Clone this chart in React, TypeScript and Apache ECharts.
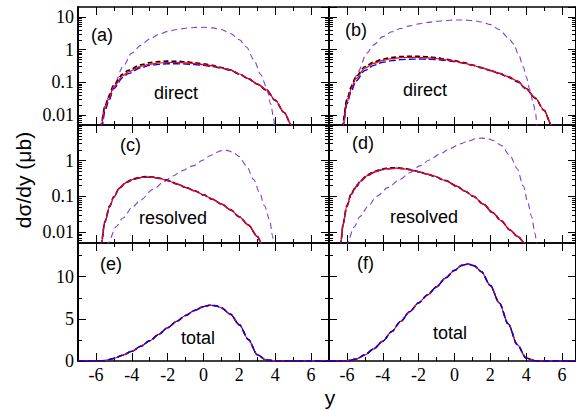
import React, { useEffect, useRef } from "react";
import * as echarts from "echarts";

// ---------- data (y = rapidity, value = dσ/dy in μb) ----------
const xMajorTicks = [-6, -4, -2, 0, 2, 4, 6];
const panelLetters = ["(a)", "(b)", "(c)", "(d)", "(e)", "(f)"];
const panelNames = ["direct", "direct", "resolved", "resolved", "total", "total"];

// (a) direct, left
const aBlack = [[-5.78,0.004],[-5.72,0.005],[-5.5,0.018],[-5.3,0.035],[-5,0.085],[-4.5,0.18],[-4.2,0.235],[-3.5,0.345],[-3,0.4],[-2.5,0.43],[-2,0.445],[-1.5,0.44],[-1,0.425],[-0.5,0.4],[0,0.37],[0.5,0.33],[1,0.285],[1.5,0.24],[2,0.18],[2.5,0.13],[3,0.088],[3.5,0.058],[4,0.028],[4.5,0.012],[4.9,0.005],[5,0.004]];
const aRed = [[-5.75,0.004],[-5.7,0.005],[-5.5,0.016],[-5.3,0.03],[-5,0.075],[-4.5,0.16],[-4.2,0.21],[-3.5,0.31],[-3,0.36],[-2.5,0.39],[-2,0.405],[-1.5,0.405],[-1,0.395],[-0.5,0.375],[0,0.35],[0.5,0.32],[1,0.28],[1.5,0.24],[2,0.18],[2.5,0.13],[3,0.09],[3.5,0.06],[4,0.029],[4.5,0.012],[4.9,0.005],[5,0.004]];
const aBlue = [[-5.7,0.004],[-5.65,0.005],[-5.5,0.013],[-5.3,0.026],[-5,0.065],[-4.5,0.14],[-4.2,0.185],[-3.5,0.28],[-3,0.33],[-2.5,0.355],[-2,0.37],[-1.5,0.37],[-1,0.365],[-0.5,0.35],[0,0.33],[0.5,0.305],[1,0.27],[1.5,0.235],[2,0.178],[2.5,0.13],[3,0.09],[3.5,0.06],[4,0.029],[4.5,0.012],[4.9,0.005],[5,0.004]];
const aPurple = [[-5.8,0.004],[-5.75,0.005],[-5.5,0.019],[-5.2,0.05],[-4.95,0.093],[-4.5,0.3],[-4,0.78],[-3.5,1.35],[-3,2.1],[-2.5,2.9],[-2,3.6],[-1.5,4.1],[-1,4.5],[-0.5,4.75],[0,4.8],[0.5,4.6],[1,4.1],[1.5,3.1],[2,2.0],[2.4,1.2],[2.8,0.5],[3.2,0.17],[3.5,0.075],[3.75,0.022],[3.9,0.009],[3.97,0.005],[4.02,0.004]];

// (b) direct, right
const bBlack = [[-6.3,0.004],[-6.25,0.005],[-6,0.03],[-5.75,0.075],[-5.5,0.15],[-5,0.3],[-4.5,0.42],[-4,0.51],[-3.5,0.575],[-3,0.615],[-2.5,0.63],[-2,0.62],[-1.5,0.6],[-1,0.57],[-0.5,0.51],[0,0.46],[0.5,0.4],[1,0.34],[1.5,0.285],[2,0.23],[2.5,0.185],[3,0.145],[3.5,0.105],[4,0.063],[4.5,0.033],[5,0.014],[5.4,0.005],[5.5,0.004]];
const bRed = [[-6.25,0.004],[-6.2,0.005],[-6,0.025],[-5.75,0.065],[-5.5,0.13],[-5,0.27],[-4.5,0.38],[-4,0.47],[-3.5,0.53],[-3,0.57],[-2.5,0.58],[-2,0.575],[-1.5,0.56],[-1,0.535],[-0.5,0.49],[0,0.445],[0.5,0.39],[1,0.335],[1.5,0.28],[2,0.23],[2.5,0.19],[3,0.15],[3.5,0.11],[4,0.065],[4.5,0.034],[5,0.014],[5.42,0.005],[5.5,0.004]];
const bBlue = [[-6.25,0.004],[-6.2,0.005],[-6,0.022],[-5.75,0.055],[-5.5,0.11],[-5,0.23],[-4.5,0.33],[-4,0.41],[-3.5,0.46],[-3,0.495],[-2.5,0.51],[-2,0.515],[-1.5,0.51],[-1,0.495],[-0.5,0.47],[0,0.43],[0.5,0.385],[1,0.33],[1.5,0.28],[2,0.23],[2.5,0.19],[3,0.15],[3.5,0.11],[4,0.065],[4.5,0.034],[5,0.014],[5.42,0.005],[5.5,0.004]];
const bPurple = [[-6.3,0.004],[-6.25,0.005],[-6,0.03],[-5.6,0.12],[-5.37,0.22],[-4.9,0.77],[-4.5,1.4],[-4,2.5],[-3.5,3.5],[-3,4.4],[-2.5,5.3],[-2,6.1],[-1.5,6.8],[-1,7.3],[-0.5,7.7],[0,8.0],[0.5,8.0],[1,7.7],[1.5,7.0],[2,5.8],[2.5,4.1],[3,2.3],[3.3,1.5],[3.6,0.65],[3.84,0.3],[4,0.15],[4.21,0.059],[4.4,0.022],[4.53,0.011],[4.6,0.005],[4.65,0.004]];

// (c) resolved, left
const cBlack = [[-5.75,0.004],[-5.7,0.005],[-5.5,0.02],[-5.23,0.055],[-5,0.1],[-4.67,0.18],[-4.3,0.255],[-3.93,0.31],[-3.5,0.35],[-3.19,0.36],[-2.8,0.352],[-2.44,0.325],[-2,0.283],[-1.5,0.227],[-0.95,0.177],[-0.5,0.145],[0,0.112],[0.5,0.084],[1,0.062],[1.5,0.043],[2,0.027],[2.5,0.016],[3,0.0077],[3.23,0.005],[3.3,0.004]];
const cRed = [[-5.75,0.004],[-5.7,0.005],[-5.5,0.02],[-5.23,0.053],[-5,0.098],[-4.67,0.176],[-4.3,0.25],[-3.93,0.3],[-3.5,0.34],[-3.19,0.35],[-2.8,0.345],[-2.44,0.32],[-2,0.28],[-1.5,0.225],[-0.95,0.176],[-0.5,0.145],[0,0.112],[0.5,0.084],[1,0.062],[1.5,0.043],[2,0.027],[2.5,0.016],[3,0.0077],[3.23,0.005],[3.3,0.004]];
const cBlue = [[-5.75,0.004],[-5.7,0.005],[-5.5,0.019],[-5.23,0.052],[-5,0.096],[-4.67,0.172],[-4.3,0.245],[-3.93,0.296],[-3.5,0.336],[-3.19,0.345],[-2.8,0.342],[-2.44,0.318],[-2,0.279],[-1.5,0.224],[-0.95,0.175],[-0.5,0.144],[0,0.111],[0.5,0.083],[1,0.061],[1.5,0.042],[2,0.027],[2.5,0.016],[3,0.0076],[3.23,0.005],[3.3,0.004]];
const cPurple = [[-5.4,0.004],[-5.33,0.005],[-4.86,0.0145],[-4.5,0.025],[-3.93,0.053],[-3.5,0.08],[-2.82,0.158],[-2.2,0.26],[-1.7,0.376],[-1.2,0.52],[-0.59,0.72],[0,1.05],[0.35,1.38],[0.7,1.7],[1,1.92],[1.3,1.95],[1.64,1.73],[2,1.3],[2.39,0.72],[2.8,0.3],[3.13,0.127],[3.4,0.055],[3.69,0.022],[3.85,0.008],[3.9,0.005],[3.95,0.004]];

// (d) resolved, right
const dBlack = [[-6.4,0.004],[-6.35,0.005],[-6.2,0.019],[-6.01,0.055],[-5.75,0.125],[-5.46,0.205],[-5.2,0.29],[-4.9,0.39],[-4.5,0.5],[-3.97,0.6],[-3.6,0.63],[-3.22,0.64],[-2.85,0.615],[-2.48,0.57],[-2,0.495],[-1.5,0.423],[-1.18,0.378],[-0.5,0.28],[0.12,0.196],[0.6,0.14],[1.05,0.102],[1.6,0.062],[2.16,0.035],[2.6,0.021],[3.1,0.0116],[3.5,0.0078],[3.93,0.005],[4,0.004]];
const dRed = [[-6.4,0.004],[-6.35,0.005],[-6.2,0.018],[-6.01,0.053],[-5.75,0.12],[-5.46,0.196],[-5.2,0.28],[-4.9,0.376],[-4.5,0.48],[-3.97,0.58],[-3.6,0.61],[-3.22,0.62],[-2.85,0.6],[-2.48,0.56],[-2,0.49],[-1.5,0.42],[-1.18,0.376],[-0.5,0.28],[0.12,0.196],[0.6,0.14],[1.05,0.102],[1.6,0.062],[2.16,0.035],[2.6,0.021],[3.1,0.0116],[3.5,0.0078],[3.93,0.005],[4,0.004]];
const dBlue = [[-6.4,0.004],[-6.35,0.005],[-6.2,0.017],[-6.01,0.051],[-5.75,0.115],[-5.46,0.19],[-5.2,0.272],[-4.9,0.365],[-4.5,0.47],[-3.97,0.57],[-3.6,0.6],[-3.22,0.61],[-2.85,0.595],[-2.48,0.556],[-2,0.488],[-1.5,0.418],[-1.18,0.375],[-0.5,0.279],[0.12,0.195],[0.6,0.139],[1.05,0.101],[1.6,0.061],[2.16,0.034],[2.6,0.021],[3.1,0.0115],[3.5,0.0077],[3.93,0.005],[4,0.004]];
const dPurple = [[-6.05,0.004],[-5.98,0.005],[-5.6,0.014],[-5.27,0.0276],[-4.8,0.055],[-4.34,0.102],[-3.7,0.18],[-3.04,0.3],[-2.5,0.46],[-1.93,0.72],[-1.4,1.05],[-0.81,1.55],[-0.25,2.2],[0.31,2.96],[0.8,3.6],[1.24,4.2],[1.55,4.3],[1.85,4.15],[2.16,3.7],[2.6,2.7],[3.1,1.39],[3.5,0.6],[3.84,0.196],[4.1,0.065],[4.3,0.0276],[4.5,0.009],[4.58,0.005],[4.65,0.004]];

// (e) total, left
const eTotal = [[-7,0],[-6.5,0],[-6,0],[-5.5,0.05],[-5,0.3],[-4.5,0.7],[-4,1.15],[-3.5,1.75],[-3,2.4],[-2.5,3.15],[-2,3.95],[-1.5,4.7],[-1,5.4],[-0.5,6.0],[0,6.45],[0.35,6.62],[0.7,6.55],[1,6.3],[1.5,5.55],[2,4.3],[2.5,2.55],[3,0.75],[3.5,0.12],[4,0.02],[4.5,0],[5,0],[6,0],[7,0]];
// (f) total, right
const fTotal = [[-7,0],[-6.5,0],[-6,0.02],[-5.5,0.22],[-5,0.72],[-4.5,1.45],[-4,2.35],[-3.5,3.5],[-3,4.7],[-2.5,5.85],[-2,6.9],[-1.5,7.85],[-1,8.8],[-0.5,9.85],[0,10.75],[0.4,11.35],[0.75,11.5],[1.1,11.3],[1.5,10.6],[2,8.95],[2.5,6.9],[3,4.4],[3.5,1.95],[4,0.35],[4.5,0.03],[5,0],[6,0],[7,0]];

const panelCurves = [
  { black: aBlack, red: aRed, blue: aBlue, purple: aPurple },
  { black: bBlack, red: bRed, blue: bBlue, purple: bPurple },
  { black: cBlack, red: cRed, blue: cBlue, purple: cPurple },
  { black: dBlack, red: dRed, blue: dBlue, purple: dPurple },
  { black: eTotal, red: eTotal, blue: eTotal, purple: null },
  { black: fTotal, red: fTotal, blue: fTotal, purple: null },
];

// ---------- layout / style ----------
const LEFT = [78, 329];
const WIDTH = [251, 247];
const XMAX = [7, 6.78];
const TOP = [7, 125, 243];
const H = 118;
const SERIF = "Liberation Serif";
const SANS = "Liberation Sans";

function logMinor(lo: number, hi: number) {
  const out: number[] = [];
  for (let e = -3; e <= 1; e++) {
    for (let k = 2; k <= 9; k++) {
      const l = Math.log10(k * Math.pow(10, e));
      if (l > lo + 1e-6 && l < hi - 1e-6) out.push(l);
    }
  }
  return out;
}

function buildOption() {
  const grid: any[] = [];
  const xAxis: any[] = [];
  const yAxis: any[] = [];
  const series: any[] = [];
  const tickStyle = { color: "#000", width: 1 };
  const serifLabel = { fontFamily: SERIF, fontSize: 18, color: "#000", fontWeight: "normal" };

  for (let g = 0; g < 6; g++) {
    const row = Math.floor(g / 2);
    const col = g % 2;
    grid.push({
      left: LEFT[col], top: TOP[row], width: WIDTH[col], height: H,
      containLabel: false, outerBoundsMode: "none",
    });
    const xBase = {
      gridIndex: g, type: "value", min: -7, max: XMAX[col],
      splitLine: { show: false }, minorTick: { show: false },
    };
    const xLine = { show: true, onZero: false, lineStyle: { color: "#000", width: 1.6 } };
    const noLine = { show: false, onZero: false };
    for (const pos of ["bottom", "top"]) {
      xAxis.push({
        ...xBase, position: pos, interval: 1, axisLine: xLine,
        axisTick: { show: true, inside: true, length: 4, lineStyle: tickStyle },
        axisLabel: { show: false },
      });
      xAxis.push({
        ...xBase, position: pos, axisLine: noLine,
        axisTick: { show: true, inside: true, length: 8, customValues: xMajorTicks, lineStyle: tickStyle },
        axisLabel: pos === "bottom" && row === 2
          ? { show: true, customValues: xMajorTicks, ...serifLabel, margin: 5 }
          : { show: false },
      });
    }

    const yLine = { show: true, onZero: false, lineStyle: { color: "#000", width: 2 } };
    const isLog = row < 2;
    const ymax = row === 0 ? 20 : row === 1 ? 10 : 14;
    for (const pos of ["left", "right"]) {
      const labels = pos === "left" && col === 0;
      if (isLog) {
        yAxis.push({
          gridIndex: g, type: "log", logBase: 10, min: 0.005, max: ymax, position: pos,
          axisLine: yLine, splitLine: { show: false },
          axisTick: { show: true, inside: true, length: 8, lineStyle: tickStyle },
          axisLabel: {
            show: labels, showMinLabel: false, showMaxLabel: false, ...serifLabel, margin: 4,
            formatter: (v: number) => String(+Number(v).toPrecision(3)),
          },
        });
      } else {
        yAxis.push({
          gridIndex: g, type: "value", min: 0, max: ymax, interval: 5, position: pos,
          axisLine: yLine, splitLine: { show: false },
          axisTick: { show: true, inside: true, length: 8, lineStyle: tickStyle },
          axisLabel: { show: labels, showMinLabel: true, showMaxLabel: false, ...serifLabel, margin: 4 },
        });
      }
    }
    for (const pos of ["left", "right"]) {
      const lo = isLog ? Math.log10(0.005) : 0;
      const hi = isLog ? Math.log10(ymax) : ymax;
      yAxis.push({
        gridIndex: g, type: "value", min: lo, max: hi, position: pos,
        axisLine: { show: false, onZero: false }, splitLine: { show: false },
        axisTick: {
          show: true, inside: true, length: 4, lineStyle: tickStyle,
          customValues: isLog ? logMinor(lo, hi) : [2.5, 7.5, 12.5],
        },
        axisLabel: { show: false },
      });
    }

    const c = panelCurves[g];
    const mk = (data: any, color: string, type: any, width: number, z: number) => ({
      type: "line", xAxisIndex: 4 * g, yAxisIndex: 4 * g, data,
      symbol: "none", showSymbol: false, smooth: 0.3, smoothMonotone: "x",
      clip: true, silent: true, z, lineStyle: { color, type, width },
    });
    const linear = row === 2;
    if (c.purple) series.push(mk(c.purple, "#7b40d6", [6, 4], 1.1, 2));
    series.push(mk(c.black, "#000000", [5, 3], 1.6, 3));
    series.push(mk(c.blue, "#0000ff", [7, 3], 1.4, linear ? 5 : 4));
    series.push(mk(c.red, "#ff0000", "solid", 1.2, linear ? 4 : 5));
  }

  const letterPos = [[91, 35], [345, 30], [120, 145], [352, 143], [100, 264], [357, 263]];
  const namePos = [[176, 93], [425, 90], [173, 218], [424, 217], [198, 338], [450, 333]];
  const graphic: any[] = [];
  for (let g = 0; g < 6; g++) {
    graphic.push({
      type: "text", x: letterPos[g][0], y: letterPos[g][1], z: 10,
      style: { text: panelLetters[g], fontFamily: SANS, fontSize: 18, fill: "#000", align: "left", verticalAlign: "middle" },
    });
    graphic.push({
      type: "text", x: namePos[g][0], y: namePos[g][1], z: 10,
      style: { text: panelNames[g], fontFamily: SANS, fontSize: 18, fill: "#000", align: "center", verticalAlign: "middle" },
    });
  }
  graphic.push({
    type: "text", x: 23, y: 180, rotation: Math.PI / 2, z: 10,
    style: { text: "dσ/dy (μb)", fontFamily: SANS, fontSize: 21, fill: "#000", align: "center", verticalAlign: "middle" },
  });
  graphic.push({
    type: "text", x: 330, y: 397, z: 10,
    style: { text: "y", fontFamily: SANS, fontSize: 21, fill: "#000", align: "center", verticalAlign: "middle" },
  });

  return {
    animation: false, backgroundColor: "#ffffff",
    grid, xAxis, yAxis, series, graphic,
  };
}

export default function App() {
  const ref = useRef<HTMLDivElement>(null);
  useEffect(() => {
    if (!ref.current) return;
    const chart = echarts.init(ref.current, null, { renderer: "svg" });
    chart.setOption(buildOption() as any);
    return () => chart.dispose();
  }, []);
  return (
    <div
      ref={ref}
      style={{ position: "fixed", left: 0, top: 0, width: 576, height: 410, background: "#fff" }}
    />
  );
}
